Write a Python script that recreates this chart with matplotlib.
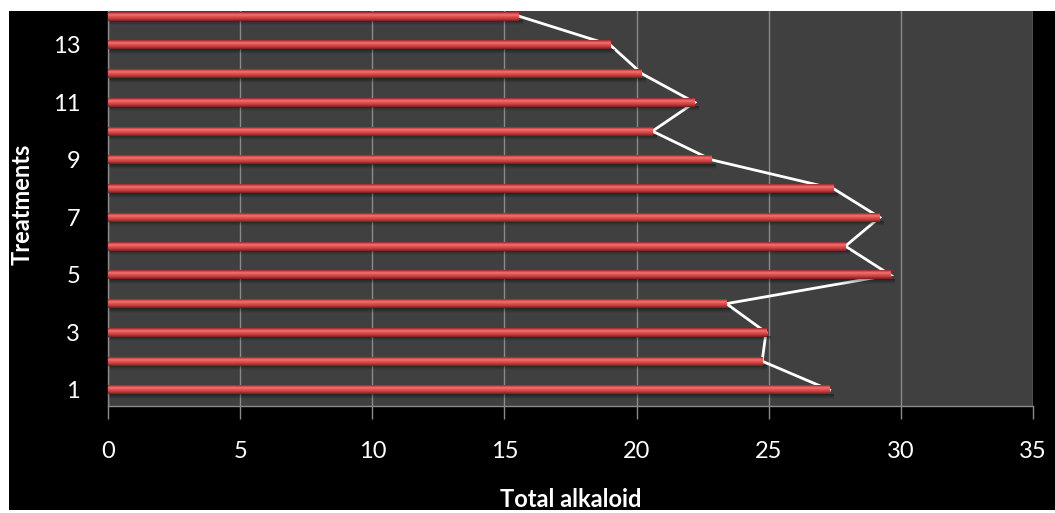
import numpy as np
import matplotlib
matplotlib.use("Agg")
import matplotlib.pyplot as plt
from matplotlib.colors import LinearSegmentedColormap
from matplotlib.patches import Rectangle

# Treatment numbers and total alkaloid content
treatments = list(range(1, 15))
alkaloid = [27.3, 24.75, 24.9, 23.4, 29.6, 27.9, 29.2, 27.45, 22.85, 20.6, 22.2, 20.2, 19.0, 15.55]
x_ticks = [0, 5, 10, 15, 20, 25, 30, 35]
y_ticks = [1, 3, 5, 7, 9, 11, 13]

plt.rcParams['font.family'] = ['Lato', 'DejaVu Sans']

W, H = 1055, 513
fig = plt.figure(figsize=(W / 100, H / 100), dpi=100, facecolor='white')

# black chart area inside a thin white margin
fig.patches.append(Rectangle((9 / W, 3 / H), 1 - 9 / W, 1 - 14 / H,
                             transform=fig.transFigure, facecolor='black',
                             edgecolor='none', zorder=-10))

ax = fig.add_axes([108 / W, 1 - 406 / H, (1033 - 108) / W, (406 - 11) / H])
ax.set_facecolor('#404040')

ax.set_xticks(x_ticks)
ax.set_yticks(y_ticks)
ax.grid(axis='x', color='#8a8a8a', linewidth=1.0)
ax.set_axisbelow(True)
for side in ('top', 'right'):
    ax.spines[side].set_visible(False)
for side in ('left', 'bottom'):
    ax.spines[side].set_color('#8a8a8a')
    ax.spines[side].set_linewidth(1.0)
ax.tick_params(axis='x', colors='#8a8a8a', length=9, width=1, direction='out',
               labelcolor='white', labelsize=17, pad=16)
ax.tick_params(axis='y', length=0, labelcolor='white', labelsize=17, pad=20)

# cylinder shading for the bars (top -> bottom)
cyl = LinearSegmentedColormap.from_list('cyl', [
    (0.00, '#8e2828'),
    (0.12, '#c84444'),
    (0.30, '#f57575'),
    (0.45, '#e85656'),
    (0.70, '#c83e3e'),
    (0.88, '#9a2c2c'),
    (1.00, '#6e1e1e'),
])
grad = np.linspace(0, 1, 64).reshape(-1, 1)
shadow = LinearSegmentedColormap.from_list('shd', [(0, (0, 0, 0, 0.45)), (1, (0, 0, 0, 0.0))])

bar_h = 0.31
# connecting line between bar ends, drawn beneath the bars
ax.plot(alkaloid, treatments, color='white', linewidth=2.0, zorder=2,
        solid_joinstyle='miter')

for t, v in zip(treatments, alkaloid):
    # soft shadow below each bar
    ax.imshow(grad, cmap=shadow, aspect='auto', interpolation='bilinear',
              extent=[0, v + 0.15, t - bar_h / 2 - 0.16, t - bar_h / 2],
              origin='upper', zorder=2.5)
    ax.imshow(grad, cmap=cyl, aspect='auto', interpolation='bilinear',
              extent=[0, v, t - bar_h / 2, t + bar_h / 2],
              origin='upper', zorder=3)

ax.set_xlim(0, 35)
ax.set_ylim(0.44, 14.18)

# axis titles
fig.text((108 + 1033) / 2 / W, 1 - 507 / H, 'Total alkaloid', color='white',
         fontsize=17, fontweight='bold', ha='center', va='baseline')
fig.text(22 / W, 1 - 204 / H, 'Treatments', color='white', fontsize=17,
         fontweight='bold', ha='center', va='center', rotation=90)

fig.savefig('out.png', dpi=100, facecolor=fig.get_facecolor())
